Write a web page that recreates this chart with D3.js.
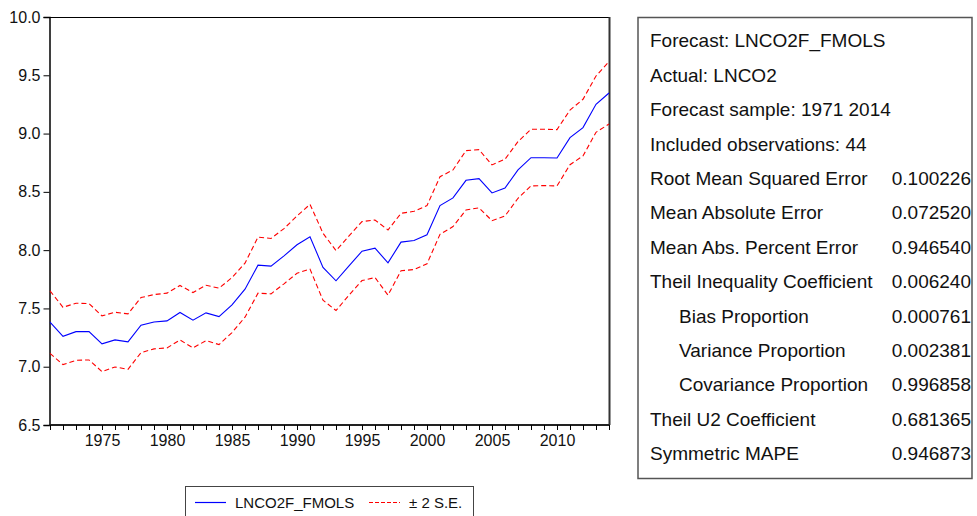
<!DOCTYPE html>
<html>
<head>
<meta charset="utf-8">
<script src="https://cdn.jsdelivr.net/npm/d3@7"></script>
<style>
  html, body { margin: 0; padding: 0; background: #fff; }
  svg { display: block; font-family: "Liberation Sans", Arial, sans-serif; }
</style>
</head>
<body>
<svg id="chart" width="977" height="516"></svg>
<script>
const years = d3.range(1971, 2015);
const forecast = [7.382, 7.261, 7.301, 7.301, 7.196, 7.230, 7.213, 7.356, 7.384, 7.393,
  7.465, 7.399, 7.462, 7.430, 7.530, 7.665, 7.871, 7.863, 7.951, 8.046,
  8.115, 7.852, 7.737, 7.865, 7.991, 8.017, 7.891, 8.069, 8.083, 8.132,
  8.382, 8.448, 8.599, 8.613, 8.491, 8.533, 8.688, 8.793, 8.793, 8.791,
  8.965, 9.051, 9.251, 9.348];
const upper = [7.651, 7.510, 7.545, 7.542, 7.436, 7.467, 7.453, 7.593, 7.619, 7.631,
  7.697, 7.636, 7.699, 7.674, 7.765, 7.888, 8.112, 8.100, 8.185, 8.293,
  8.393, 8.145, 7.996, 8.122, 8.245, 8.259, 8.173, 8.316, 8.333, 8.382,
  8.630, 8.688, 8.854, 8.862, 8.731, 8.780, 8.931, 9.037, 9.037, 9.034,
  9.202, 9.294, 9.494, 9.617];
const lower = [7.115, 7.018, 7.055, 7.058, 6.958, 6.998, 6.978, 7.121, 7.153, 7.161,
  7.230, 7.161, 7.224, 7.190, 7.293, 7.425, 7.631, 7.625, 7.711, 7.802,
  7.837, 7.570, 7.482, 7.614, 7.739, 7.765, 7.614, 7.823, 7.834, 7.883,
  8.136, 8.202, 8.345, 8.362, 8.253, 8.293, 8.445, 8.551, 8.554, 8.551,
  8.733, 8.808, 9.011, 9.082];
const yTicks = [6.5, 7.0, 7.5, 8.0, 8.5, 9.0, 9.5, 10.0];
const xLabelYears = [1975, 1980, 1985, 1990, 1995, 2000, 2005, 2010];
const legendLabels = ["LNCO2F_FMOLS", "\u00B1 2 S.E."];
const statsLabels = ["Forecast: LNCO2F_FMOLS", "Actual: LNCO2", "Forecast sample: 1971 2014",
  "Included observations: 44", "Root Mean Squared Error", "Mean Absolute Error",
  "Mean Abs. Percent Error", "Theil Inequality Coefficient", "Bias Proportion",
  "Variance Proportion", "Covariance Proportion", "Theil U2 Coefficient", "Symmetric MAPE"];
const statsValues = ["", "", "", "", "0.100226", "0.072520", "0.946540", "0.006240",
  "0.000761", "0.002381", "0.996858", "0.681365", "0.946873"];
const statsIndent = [0, 0, 0, 0, 0, 0, 0, 0, 1, 1, 1, 0, 0];

const svg = d3.select("#chart");
const L = 49.5, R = 609.5, T = 17, B = 425;
const x = d3.scaleLinear().domain([1971, 2014]).range([50, 609]);
const y = d3.scaleLinear().domain([6.5, 10]).range([B, T]);

// frame
svg.append("line").attr("x1", L).attr("x2", R).attr("y1", T + 0.5).attr("y2", T + 0.5)
  .attr("stroke", "#000").attr("stroke-width", 1);
svg.append("line").attr("x1", R).attr("x2", R).attr("y1", T).attr("y2", B)
  .attr("stroke", "#333").attr("stroke-width", 2);

// y axis
const yAxis = svg.append("g").attr("transform", `translate(${L},0)`)
  .call(d3.axisLeft(y).tickValues(yTicks).tickFormat(d3.format(".1f")).tickSize(6).tickPadding(3));
yAxis.select(".domain").attr("stroke", "#000").attr("stroke-width", 1.5);
yAxis.selectAll(".tick line").attr("stroke", "#000");
yAxis.selectAll("text").attr("font-size", 16).attr("fill", "#111")
  .attr("font-family", "'Liberation Sans', Arial, sans-serif");

// x axis
const xAxis = svg.append("g").attr("transform", `translate(0,${B})`)
  .call(d3.axisBottom(x).tickValues(years)
    .tickFormat(d => xLabelYears.includes(d) ? String(d) : "").tickSize(5).tickSizeOuter(0).tickPadding(5));
xAxis.select(".domain").attr("stroke", "#222").attr("stroke-width", 2)
  .attr("d", `M${L},0H${R}`);
xAxis.selectAll(".tick line").attr("stroke", "#000");
xAxis.selectAll("text").attr("font-size", 16).attr("fill", "#111")
  .attr("font-family", "'Liberation Sans', Arial, sans-serif");

// lines
const line = d3.line().x((d, i) => x(years[i])).y(d => y(d));
svg.append("path").datum(upper).attr("d", line).attr("fill", "none")
  .attr("stroke", "#ff0000").attr("stroke-width", 1.1).attr("stroke-dasharray", "5,3");
svg.append("path").datum(lower).attr("d", line).attr("fill", "none")
  .attr("stroke", "#ff0000").attr("stroke-width", 1.1).attr("stroke-dasharray", "5,3");
svg.append("path").datum(forecast).attr("d", line).attr("fill", "none")
  .attr("stroke", "#0000ff").attr("stroke-width", 1.1);

// legend
const lg = svg.append("g");
lg.append("rect").attr("x", 185.5).attr("y", 486.5).attr("width", 288).attr("height", 40)
  .attr("fill", "#fff").attr("stroke", "#444").attr("stroke-width", 1);
lg.append("line").attr("x1", 195).attr("x2", 226).attr("y1", 502.5).attr("y2", 502.5)
  .attr("stroke", "#0000ff").attr("stroke-width", 1.2);
lg.append("text").attr("x", 235).attr("y", 507.5).attr("font-size", 15).attr("fill", "#111")
  .text(legendLabels[0]);
lg.append("line").attr("x1", 369).attr("x2", 400).attr("y1", 502.5).attr("y2", 502.5)
  .attr("stroke", "#ff0000").attr("stroke-width", 1.2).attr("stroke-dasharray", "4,2");
lg.append("text").attr("x", 409).attr("y", 507.5).attr("font-size", 15).attr("fill", "#111")
  .text(legendLabels[1]);

// stats box
const sb = svg.append("g");
sb.append("rect").attr("x", 638).attr("y", 17.5).attr("width", 334).attr("height", 461)
  .attr("fill", "#fff").attr("stroke", "#555").attr("stroke-width", 1.5);
statsLabels.forEach((s, i) => {
  const by = 47.3 + i * 34.4;
  sb.append("text").attr("x", statsIndent[i] ? 679 : 650).attr("y", by)
    .attr("font-size", 19).attr("fill", "#111").text(s);
  if (statsValues[i]) {
    sb.append("text").attr("x", 971).attr("y", by).attr("text-anchor", "end")
      .attr("font-size", 19).attr("fill", "#111").text(statsValues[i]);
  }
});
</script>
</body>
</html>
